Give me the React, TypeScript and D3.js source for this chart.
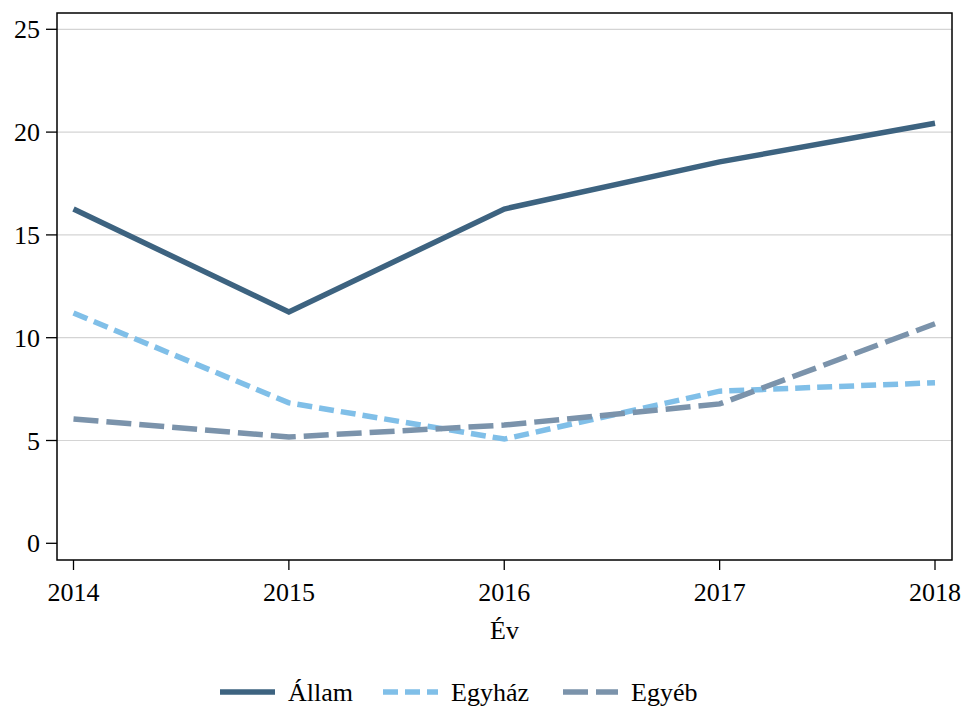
import React from "react";
import * as d3 from "d3";

const years = [2014, 2015, 2016, 2017, 2018];
const allam = [16.26, 11.25, 16.26, 18.55, 20.43];
const egyhaz = [11.2, 6.83, 5.07, 7.4, 7.81];
const egyeb = [6.05, 5.17, 5.75, 6.78, 10.68];
const yTicks = [0, 5, 10, 15, 20, 25];
const seriesNames = ["Állam", "Egyház", "Egyéb"];

const W = 966, H = 709;
const left = 57, right = 952, top = 13, bottom = 560;
const font = "'Liberation Serif', 'Times New Roman', serif";

export default function App() {
  const x = d3.scaleLinear().domain([2014, 2018]).range([73.5, 935]);
  const y = d3.scaleLinear().domain([0, 25]).range([543.3, 29.3]);
  const line = d3.line<number>().x((_, i) => x(years[i])).y((d) => y(d));
  const series = [
    { name: seriesNames[0], data: allam, color: "#3d6380", dash: "none" },
    { name: seriesNames[1], data: egyhaz, color: "#80bfe8", dash: "15 7" },
    { name: seriesNames[2], data: egyeb, color: "#7b93ab", dash: "25 8" },
  ];
  const legendX = [220, 383, 563];
  return (
    <svg width={W} height={H} style={{ position: "absolute", left: 0, top: 0, background: "#fff" }}>
      <rect x={0} y={0} width={W} height={H} fill="#fff" />
      {yTicks.filter((t) => t > 0).map((t) => (
        <line key={t} x1={left} x2={right} y1={y(t)} y2={y(t)} stroke="#d4d4d4" strokeWidth={1.2} />
      ))}
      {series.map((s) => (
        <path key={s.name} d={line(s.data) || ""} fill="none" stroke={s.color} strokeWidth={5.5}
          strokeDasharray={s.dash} strokeLinejoin="miter" />
      ))}
      <rect x={left} y={top} width={right - left} height={bottom - top} fill="none" stroke="#000" strokeWidth={1.5} />
      {yTicks.map((t) => (
        <g key={t}>
          <line x1={left - 11} x2={left} y1={y(t)} y2={y(t)} stroke="#000" strokeWidth={1.3} />
          <text x={40} y={y(t)} dy="0.35em" textAnchor="end" fontFamily={font} fontSize={26}>{t}</text>
        </g>
      ))}
      {years.map((yr) => (
        <g key={yr}>
          <line x1={x(yr)} x2={x(yr)} y1={bottom} y2={bottom + 10} stroke="#000" strokeWidth={1.3} />
          <text x={x(yr)} y={601} textAnchor="middle" fontFamily={font} fontSize={26}>{yr}</text>
        </g>
      ))}
      <text x={(left + right) / 2} y={638.5} textAnchor="middle" fontFamily={font} fontSize={26}>Év</text>
      {series.map((s, i) => (
        <g key={s.name}>
          <line x1={legendX[i]} x2={legendX[i] + 55} y1={692} y2={692} stroke={s.color} strokeWidth={5.5} strokeDasharray={s.dash} />
          <text x={legendX[i] + 68} y={692} dy="0.35em" fontFamily={font} fontSize={26}>{s.name}</text>
        </g>
      ))}
    </svg>
  );
}
